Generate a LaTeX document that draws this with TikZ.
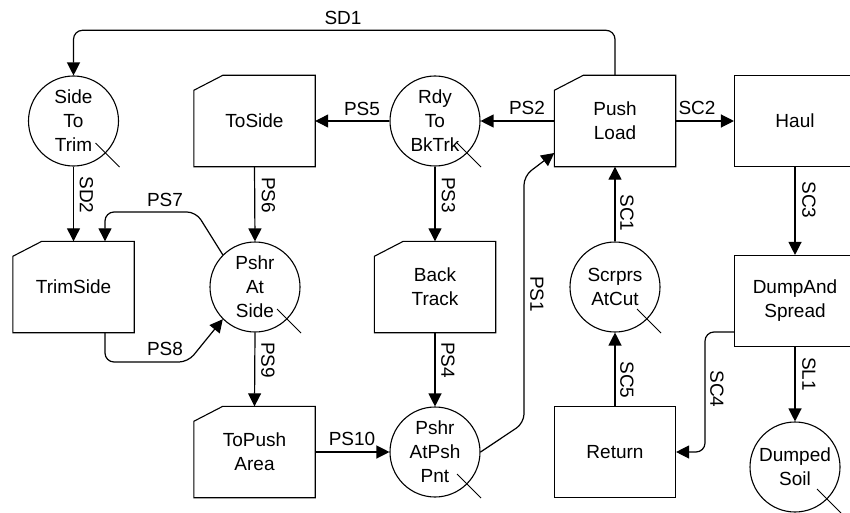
\documentclass[tikz,border=0pt]{standalone}
\usepackage{fontspec}
\setmainfont{Liberation Sans}
\usetikzlibrary{arrows.meta}
\tikzset{
 base/.style={font=\fontsize{19}{24}\selectfont, align=center},
 box/.style={base, rectangle, minimum width=121pt, minimum height=91pt, inner sep=0pt},
 plainbox/.style={box, draw, line width=1.1pt},
 place/.style={base, circle, draw, line width=1.1pt, minimum size=90pt, inner sep=0pt},
 lbl/.style={base, inner sep=0pt},
 vlbl/.style={lbl, rotate=-90},
 conn/.style={line width=1.2pt, -{Triangle[length=13pt,width=13pt]}, rounded corners=9pt},
 outline/.style={line width=1.1pt},
 tok/.style={line width=0.9pt},
}
\newcommand\chamf[1]{\draw[outline] ([yshift=-15pt]#1.north west) -- ([xshift=29pt]#1.north west) -- (#1.north east) -- (#1.south east) -- (#1.south west) -- cycle;}
\newcommand\tokmark[1]{\draw[tok] (#1.center) ++(22,22) -- ++(24,24);}
\begin{document}
\begin{tikzpicture}[x=1pt,y=-1pt]
\useasboundingbox (0,0) rectangle (850,513);
\clip (0,0) rectangle (850,513);
% boxes
\node[box] (toside) at (254.5,121) {ToSide};
\node[box] (pushload) at (615,121) {Push\\Load};
\node[plainbox] (haul) at (795,121) {Haul};
\node[box] (trimside) at (73.5,287) {TrimSide};
\node[box] (backtrack) at (435,287) {Back\\Track};
\node[plainbox] (dump) at (795,301) {DumpAnd\\Spread};
\node[box] (topush) at (254.5,452) {ToPush\\Area};
\node[plainbox] (return) at (615,452) {Return};
\chamf{toside}
\chamf{pushload}
\chamf{trimside}
\chamf{backtrack}
\chamf{topush}
% places
\node[place] (sidetrim) at (73.5,121) {Side\\To\\Trim};
\node[place] (rdy) at (435,121) {Rdy\\To\\BkTrk};
\node[place] (pshrside) at (255,287) {Pshr\\At\\Side};
\node[place] (scrprs) at (615,287) {Scrprs\\AtCut};
\node[place] (pshrpnt) at (435,452) {Pshr\\AtPsh\\Pnt};
\node[place] (dumped) at (795,467) {Dumped\\Soil};
\tokmark{sidetrim}
\tokmark{rdy}
\tokmark{pshrside}
\tokmark{scrprs}
\tokmark{pshrpnt}
\tokmark{dumped}
% connectors
\draw[conn] (pushload.north) -- ++(0,-45) -| (sidetrim.north);
\draw[conn] (sidetrim.south) -- (trimside.north);
\draw[conn] (pushload.west) -- (rdy.east);
\draw[conn] (rdy.west) -- (toside.east);
\draw[conn] (rdy.south) -- (backtrack.north);
\draw[conn] (backtrack.south) -- (pshrpnt.north);
\draw[conn] (toside.south) -- (pshrside.north);
\draw[conn] (pshrside.south) -- (topush.north);
\draw[conn] (topush.east) -- (pshrpnt.west);
\draw[conn] (pshrpnt.east) -- (524,423) -- (524,176) -- ([yshift=-32pt]pushload.west);
\draw[conn] (pshrside.135) -- (196,212) -- (105,212) -- ([xshift=31.5pt]trimside.north);
\draw[conn] ([xshift=31.5pt]trimside.south) -- (105,362) -- (188,362) -- (pshrside.225);
\draw[conn] (scrprs.north) -- (pushload.south);
\draw[conn] (pushload.east) -- (haul.west);
\draw[conn] (haul.south) -- (dump.north);
\draw[conn] ([yshift=-31pt]dump.west) -- (705,332) -- (705,452) -- (return.east);
\draw[conn] (return.north) -- (scrprs.south);
\draw[conn] (dump.south) -- (dumped.north);
% labels
\node[lbl] (lSD1) at (343,17.5) {SD1};
\node[lbl] (lPS5) at (362,108.5) {PS5};
\node[lbl] (lPS2) at (527,108) {PS2};
\node[lbl] (lSC2) at (697,108) {SC2};
\node[lbl] (lPS7) at (165,200) {PS7};
\node[lbl] (lPS8) at (165,349) {PS8};
\node[lbl] (lPS10) at (352,439) {PS10};
\node[vlbl] (lSD2) at (86.5,195) {SD2};
\node[vlbl] (lPS6) at (268.5,195) {PS6};
\node[vlbl] (lPS3) at (448.5,195) {PS3};
\node[vlbl] (lSC1) at (627,213) {SC1};
\node[vlbl] (lSC3) at (809,200) {SC3};
\node[vlbl] (lPS1) at (537,294) {PS1};
\node[vlbl] (lPS4) at (448,360) {PS4};
\node[vlbl] (lPS9) at (268,360) {PS9};
\node[vlbl] (lSC5) at (627,380) {SC5};
\node[vlbl] (lSC4) at (717,389) {SC4};
\node[vlbl] (lSL1) at (809,374) {SL1};
\end{tikzpicture}
\end{document}
